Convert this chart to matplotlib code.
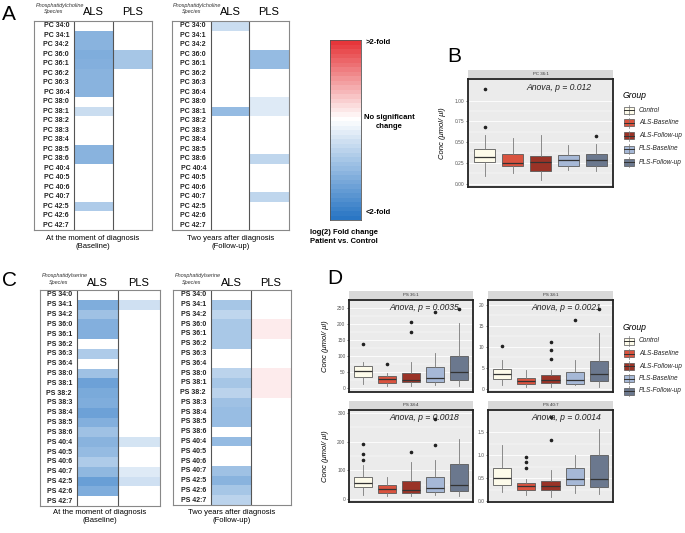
import numpy as np
import matplotlib.pyplot as plt
from matplotlib.colors import LinearSegmentedColormap, Normalize
from matplotlib.patches import Rectangle

plt.rcParams['font.family'] = ['Liberation Sans', 'DejaVu Sans']

W, H = 685, 533

# --- heatmap data: log2 fold change patient vs control (0 = not significant)
pc_species = ['PC 34:0', 'PC 34:1', 'PC 34:2', 'PC 36:0', 'PC 36:1', 'PC 36:2',
              'PC 36:3', 'PC 36:4', 'PC 38:0', 'PC 38:1', 'PC 38:2', 'PC 38:3',
              'PC 38:4', 'PC 38:5', 'PC 38:6', 'PC 40:4', 'PC 40:5', 'PC 40:6',
              'PC 40:7', 'PC 42:5', 'PC 42:6', 'PC 42:7']
ps_species = ['PS 34:0', 'PS 34:1', 'PS 34:2', 'PS 36:0', 'PS 36:1', 'PS 36:2',
              'PS 36:3', 'PS 36:4', 'PS 38:0', 'PS 38:1', 'PS 38:2', 'PS 38:3',
              'PS 38:4', 'PS 38:5', 'PS 38:6', 'PS 40:4', 'PS 40:5', 'PS 40:6',
              'PS 40:7', 'PS 42:5', 'PS 42:6', 'PS 42:7']

pc_base_als = [0, -0.55, -0.55, -0.6, -0.58, -0.55, -0.55, -0.55, 0, -0.25, 0,
               0, 0, -0.55, -0.55, 0, 0, 0, 0, -0.38, 0, 0]
pc_base_pls = [0, 0, 0, -0.42, -0.42, 0, 0, 0, 0, 0, 0,
               0, 0, 0, 0, 0, 0, 0, 0, 0, 0, 0]
pc_follow_als = [-0.25, 0, 0, 0, 0, 0, 0, 0, 0, -0.5, 0,
                 0, 0, 0, 0, 0, 0, 0, 0, 0, 0, 0]
pc_follow_pls = [0, 0, 0, -0.5, -0.5, 0, 0, 0, -0.15, -0.15, 0,
                 0, 0, 0, -0.3, 0, 0, 0, -0.3, 0, 0, 0]

ps_base_als = [0, -0.6, -0.45, -0.58, -0.58, 0, -0.38, 0, -0.45, -0.68, -0.62,
               -0.6, -0.68, -0.58, -0.45, -0.55, -0.5, -0.38, -0.52, -0.7, -0.6, 0]
ps_base_pls = [0, -0.22, 0, 0, 0, 0, 0, 0, 0, 0, 0,
               0, 0, 0, 0, -0.2, 0, 0, -0.15, -0.22, 0, 0]
ps_follow_als = [0, -0.42, -0.3, -0.4, -0.4, -0.4, 0, 0, -0.32, -0.42, -0.32,
                 -0.45, -0.48, -0.48, 0, -0.5, 0, 0, -0.45, -0.55, -0.42, -0.32]
ps_follow_pls = [0, 0, 0, 0.1, 0.1, 0, 0, 0, 0.1, 0.1, 0.1,
                 0, 0, 0, 0, 0, 0, 0, 0, 0, 0, 0]

# --- boxplot data: (whisker low, q1, median, q3, whisker high) per group
groups = ['Control', 'ALS-Baseline', 'ALS-Follow-up', 'PLS-Baseline', 'PLS-Follow-up']
group_colors = ['#fdfbea', '#d9533f', '#9a3327', '#a6b8d6', '#6b788e']

pc361_box = [(0.09, 0.256, 0.324, 0.416, 0.59), (0.128, 0.208, 0.248, 0.356, 0.548),
             (0.04, 0.148, 0.264, 0.336, 0.588), (0.168, 0.208, 0.28, 0.344, 0.468),
             (0.148, 0.216, 0.28, 0.356, 0.48)]
pc361_out = [[0.68, 1.136], [], [], [], [0.568]]

ps361_box = [(13, 34, 52, 70, 83), (8, 15, 29, 39, 46), (8, 18.5, 26, 46, 82),
             (11, 18.5, 31, 67, 111), (8, 24, 49, 101, 204)]
ps361_out = [[139], [75], [176, 207], [237], [247]]

ps381_box = [(0.8, 2.2, 3.4, 4.6, 6.9), (0.4, 1.0, 1.8, 2.6, 4.4), (0.4, 1.35, 2.1, 3.3, 4.4),
             (0.8, 1.2, 2.1, 4.1, 6.8), (0.4, 1.8, 3.6, 6.6, 13.4)]
ps381_out = [[10.1], [], [7.1, 9.3, 11.2], [16.3], [19.1]]

ps384_box = [(15, 40.7, 55.8, 75.6, 117), (9, 21, 35, 50, 75.6), (9, 21, 32.6, 64, 129),
             (15, 24, 38, 75.6, 137), (12, 27, 50, 123, 209)]
ps384_out = [[137, 155, 193], [], [164], [187, 280], []]

ps407_box = [(0.19, 0.35, 0.51, 0.73, 1.21), (0.13, 0.25, 0.33, 0.40, 0.48),
             (0.09, 0.24, 0.33, 0.43, 0.68), (0.17, 0.36, 0.48, 0.71, 1.01),
             (0.15, 0.31, 0.49, 1.01, 1.57)]
ps407_out = [[], [0.73, 0.84, 0.95], [1.32, 1.82], [], []]

fig = plt.figure(figsize=(6.85, 5.33), dpi=100)

cmap = LinearSegmentedColormap.from_list('fc', ['#2a76c4', '#ffffff', '#e6363a'])
norm = Normalize(-1, 1)


def px(x0, y0, x1, y1):
    # pixel box (top-left origin) -> figure fraction
    return [x0 / W, 1 - y1 / H, (x1 - x0) / W, (y1 - y0) / H]


ov = fig.add_axes([0, 0, 1, 1], zorder=10)
ov.set_xlim(0, W)
ov.set_ylim(H, 0)
ov.axis('off')
ov.patch.set_alpha(0)


def heat_table(edges, y0, y1, species, als, pls, cls_name, caption, head_y, cap_y):
    n = len(species)
    ax = fig.add_axes(px(edges[0], y0, edges[3], y1))
    vals = np.ma.masked_equal(np.column_stack([als, pls]), 0)
    ax.pcolormesh(edges[1:], np.arange(n + 1), vals, cmap=cmap, norm=norm)
    ax.set_xlim(edges[0], edges[3])
    ax.set_ylim(n, 0)
    for i, s in enumerate(species):
        ax.text(edges[1] - 5, i + 0.5, s, ha='right', va='center',
                fontsize=5, fontweight='bold', color='#222')
    for e in edges[1:3]:
        ax.axvline(e, color='#555', lw=0.8)
    for sp in ax.spines.values():
        sp.set_color('#888')
        sp.set_linewidth(0.8)
    ax.set_xticks([])
    ax.set_yticks([])
    ov.text((edges[1] + edges[2]) / 2, head_y, 'ALS', ha='center', va='center', fontsize=8)
    ov.text((edges[2] + edges[3]) / 2, head_y, 'PLS', ha='center', va='center', fontsize=8)
    cx = (edges[0] + edges[1]) / 2
    ov.text(cx + 6, head_y - 7, cls_name, ha='center', va='center', fontsize=4,
            style='italic', color='#333')
    ov.text(cx, head_y - 0.5, 'Species', ha='center', va='center', fontsize=4,
            style='italic', color='#333')
    ov.text((edges[0] + edges[3]) / 2, cap_y, caption, ha='center', va='top',
            fontsize=5.5, linespacing=1.3)


heat_table([34, 74, 113, 152], 21, 230, pc_species, pc_base_als, pc_base_pls,
           'Phosphatidylcholine', 'At the moment of diagnosis\n(Baseline)', 12, 235)
heat_table([172, 211, 249, 289], 21, 230, pc_species, pc_follow_als, pc_follow_pls,
           'Phosphatidylcholine', 'Two years after diagnosis\n(Follow-up)', 12, 235)
heat_table([40, 77, 118, 160], 290, 506, ps_species, ps_base_als, ps_base_pls,
           'Phosphatidylserine', 'At the moment of diagnosis\n(Baseline)', 283, 509)
heat_table([173, 211, 251, 291], 290, 505, ps_species, ps_follow_als, ps_follow_pls,
           'Phosphatidylserine', 'Two years after diagnosis\n(Follow-up)', 283, 509)

# --- stepped colour scale
cb_levels = np.concatenate([np.linspace(1, 0, 18)[:-1], np.linspace(0, -1, 23)])
cax = fig.add_axes(px(330, 40, 361, 220))
cax.pcolormesh([0, 1], np.arange(len(cb_levels) + 1), cb_levels[:, None], cmap=cmap, norm=norm)
cax.set_ylim(len(cb_levels), 0)
cax.set_xticks([])
cax.set_yticks([])
for sp in cax.spines.values():
    sp.set_color('#555')
    sp.set_linewidth(0.6)
ov.text(366, 42, '>2-fold', fontsize=5.5, fontweight='bold', va='center')
ov.text(389, 122, 'No significant\nchange', fontsize=5.5, fontweight='bold',
        ha='center', va='center', linespacing=1.3)
ov.text(366, 212, '<2-fold', fontsize=5.5, fontweight='bold', va='center')
ov.text(310, 237, 'log(2) Fold change\nPatient vs. Control', fontsize=5.5,
        fontweight='bold', va='center', linespacing=1.3)


def box_panel(rect, title, stats, outs, ylim, yticks, ylabels, anova, ax_x):
    x0, y0, x1, y1 = rect
    ax = fig.add_axes(px(x0, y0, x1, y1))
    ax.set_facecolor('#ebebeb')
    bstats = [dict(whislo=s[0], q1=s[1], med=s[2], q3=s[3], whishi=s[4], fliers=o)
              for s, o in zip(stats, outs)]
    bp = ax.bxp(bstats, positions=np.arange(1, 6), widths=0.75, patch_artist=True,
                showcaps=False,
                boxprops=dict(edgecolor='#5a5a5a', linewidth=0.6),
                medianprops=dict(color='#333333', linewidth=0.9),
                whiskerprops=dict(color='#7a7a7a', linewidth=0.6),
                flierprops=dict(marker='o', markersize=1.6, markerfacecolor='#222',
                                markeredgecolor='#222'))
    for patch, c in zip(bp['boxes'], group_colors):
        patch.set_facecolor(c)
    ax.set_xlim(0.4, 5.6)
    ax.set_ylim(ylim)
    ax.set_yticks(yticks)
    ax.set_yticklabels(ylabels)
    ax.set_yticks([(a + b) / 2 for a, b in zip(yticks[:-1], yticks[1:])], minor=True)
    ax.grid(axis='y', which='major', color='white', lw=0.6)
    ax.grid(axis='y', which='minor', color='white', lw=0.3)
    ax.set_axisbelow(True)
    ax.set_xticks([])
    ax.tick_params(axis='y', which='major', length=1.5, width=0.4, labelsize=3.5,
                   labelcolor='#555', pad=1)
    ax.tick_params(axis='y', which='minor', length=0)
    for sp in ax.spines.values():
        sp.set_color('#222')
        sp.set_linewidth(1.3)
    ax.text(ax_x, 0.92, anova, transform=ax.transAxes, style='italic', fontsize=6.2,
            ha='center', va='center', color='#222')
    sax = fig.add_axes(px(x0, y0 - 9, x1, y0 - 1))
    sax.set_facecolor('#d9d9d9')
    sax.set_xticks([])
    sax.set_yticks([])
    for sp in sax.spines.values():
        sp.set_visible(False)
    sax.text(0.5, 0.5, title, transform=sax.transAxes, fontsize=3.2, ha='center',
             va='center', color='#333')
    return ax


box_panel((468, 79, 613, 187), 'PC 36:1', pc361_box, pc361_out, (-0.04, 1.26),
          [0, 0.25, 0.5, 0.75, 1.0], ['0.00', '0.25', '0.50', '0.75', '1.00'],
          'Anova, p = 0.012', 0.63)
box_panel((349, 300, 473, 392), 'PS 36:1', ps361_box, ps361_out, (-12, 275),
          [0, 50, 100, 150, 200, 250], ['0', '50', '100', '150', '200', '250'],
          'Anova, p = 0.0035', 0.605)
box_panel((488, 300, 613, 392), 'PS 38:1', ps381_box, ps381_out, (-0.8, 21.2),
          [0, 5, 10, 15, 20], ['0', '5', '10', '15', '20'],
          'Anova, p = 0.0021', 0.63)
box_panel((349, 410, 473, 502), 'PS 38:4', ps384_box, ps384_out, (-10.5, 310),
          [0, 100, 200, 300], ['0', '100', '200', '300'],
          'Anova, p = 0.0018', 0.605)
box_panel((488, 410, 613, 502), 'PS 40:7', ps407_box, ps407_out, (-0.02, 1.98),
          [0, 0.5, 1.0, 1.5], ['0.0', '0.5', '1.0', '1.5'],
          'Anova, p = 0.0014', 0.63)

ylab = 'Conc (\u03bcmol/ \u03bcl)'
ov.text(443, 133, ylab, rotation=90, style='italic', fontsize=5.5, ha='center', va='center')
ov.text(326, 346, ylab, rotation=90, style='italic', fontsize=5.5, ha='center', va='center')
ov.text(326, 456, ylab, rotation=90, style='italic', fontsize=5.5, ha='center', va='center')


def legend(x, title_y, ys):
    ov.text(x, title_y, 'Group', style='italic', fontsize=6.2, va='center')
    for yy, g, c in zip(ys, groups, group_colors):
        ov.plot([x + 6, x + 6], [yy - 5, yy + 5], color='#777', lw=0.5)
        ov.add_patch(Rectangle((x + 1, yy - 3.5), 10, 7, fc=c, ec='#555', lw=0.5))
        ov.plot([x + 1, x + 11], [yy, yy], color='#333', lw=0.7)
        ov.text(x + 16, yy, g, style='italic', fontsize=4.7, va='center', color='#222')


legend(623, 95, [110, 122.5, 135.5, 149, 162])
legend(623, 327, [341, 353.5, 366, 378.5, 391])

# panel letters
for lx, ly, lt in [(2, 14, 'A'), (447, 56, 'B'), (2, 280, 'C'), (327, 278, 'D')]:
    ov.text(lx, ly, lt, fontsize=15, va='center', ha='left')

fig.savefig('out.png', dpi=100)
